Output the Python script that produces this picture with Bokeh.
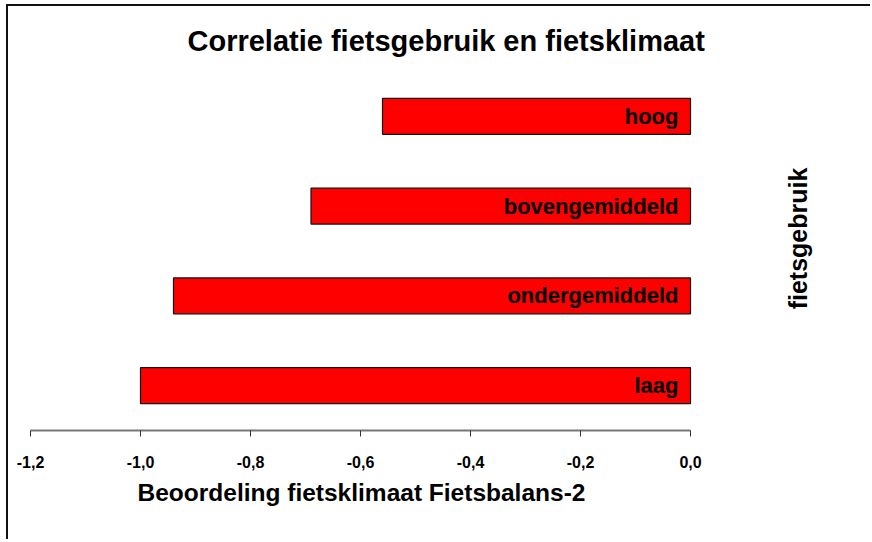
import math
from bokeh.plotting import figure
from bokeh.models import (FactorRange, Range1d, ColumnDataSource, FixedTicker,
                          CustomJSTickFormatter, Title, Label)
from bokeh.core.properties import value
from bokeh.embed import file_html
from bokeh.resources import INLINE

# --- data ---
categories = ["laag", "ondergemiddeld", "bovengemiddeld", "hoog"]
values = [-1.00, -0.94, -0.69, -0.56]
tick_values = [-1.2, -1.0, -0.8, -0.6, -0.4, -0.2, 0.0]
title_text = "Correlatie fietsgebruik en fietsklimaat"
x_label = "Beoordeling fietsklimaat Fietsbalans-2"
y_label = "fietsgebruik"

FONT = "Liberation Sans"

# layout: the value axis spans 660 px for -1.2 .. 0.0; the frame is widened to the
# right so that the rotated "fietsgebruik" label can live inside it
W, H = 864, 535
LEFT, RIGHT, TOP, BOTTOM = 22, 4, 65, 111
axis_px = 660.0
x_start, x_end_axis = tick_values[0], tick_values[-1]
frame_w = W - LEFT - RIGHT
x_end = x_start + (x_end_axis - x_start) * frame_w / axis_px

p = figure(width=W, height=H, output_backend="svg", toolbar_location=None,
           y_range=FactorRange(factors=categories), x_range=Range1d(x_start, x_end),
           min_border_left=LEFT, min_border_right=RIGHT, min_border_top=TOP,
           min_border_bottom=BOTTOM,
           background_fill_color="white", border_fill_color="white")
p.styles = {"border-left": "2px solid #111", "border-top": "2px solid #111",
            "margin-left": "6px", "margin-top": "4px"}
p.outline_line_color = None
p.xgrid.grid_line_color = None
p.ygrid.grid_line_color = None
p.yaxis.visible = False

src = ColumnDataSource(dict(cat=categories, val=values, zero=[0.0] * len(values)))
p.hbar(y="cat", left="val", right="zero", height=0.4, source=src,
       fill_color="#FF0000", line_color="#111111", line_width=1.2)
p.text(x="zero", y="cat", text="cat", source=src, x_offset=-12,
       text_align="right", text_baseline="middle", text_font=value(FONT),
       text_font_style="bold", text_font_size="22px", text_color="black")

ax = p.xaxis[0]
ax.bounds = (x_start, x_end_axis)
ax.ticker = FixedTicker(ticks=tick_values)
ax.formatter = CustomJSTickFormatter(code="return tick.toFixed(1).replace('.', ',');")
ax.axis_line_color = "#777777"
ax.axis_line_width = 2
ax.major_tick_line_color = "#333333"
ax.major_tick_in = 0
ax.major_tick_out = 6
ax.minor_tick_line_color = None
ax.major_label_text_font = FONT
ax.major_label_text_font_style = "bold"
ax.major_label_text_font_size = "16px"
ax.major_label_text_color = "black"
ax.major_label_standoff = 19

p.add_layout(Title(text=x_label, align="left", offset=107, standoff=16,
                   vertical_align="top",
                   text_font=FONT, text_font_style="bold", text_font_size="24.5px",
                   text_color="black"), "below")

p.add_layout(Label(x=767, y=192, x_units="screen", y_units="screen", text=y_label,
                   angle=math.pi / 2, text_align="center", text_baseline="middle",
                   text_font=FONT, text_font_style="bold", text_font_size="25px",
                   text_color="black"))

p.add_layout(Title(text=title_text, align="left", offset=157, standoff=30,
                   text_font=FONT, text_font_style="bold", text_font_size="29px",
                   text_color="black"), "above")

open("out.html", "w").write(file_html(p, INLINE))
